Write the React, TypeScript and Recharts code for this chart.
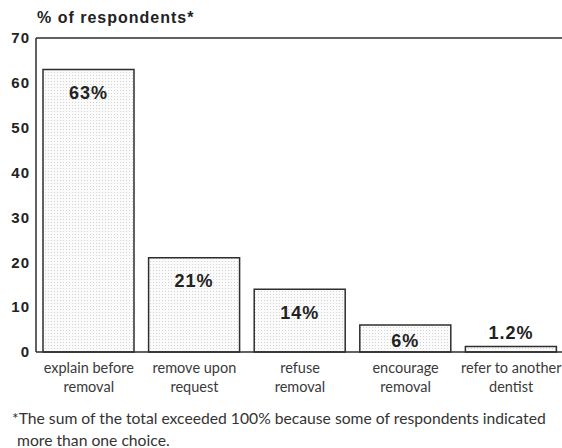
import React from "react";
import { BarChart, Bar, XAxis, YAxis, ReferenceLine, LabelList } from "recharts";

// Responses: what the dentist does when asked about removal
const categories: string[][] = [
  ["explain before", "removal"],
  ["remove upon", "request"],
  ["refuse", "removal"],
  ["encourage", "removal"],
  ["refer to another", "dentist"],
];
const percents: number[] = [63, 21, 14, 6, 1.2];
const valueLabels: string[] = ["63%", "21%", "14%", "6%", "1.2%"];
const yTicks: number[] = [0, 10, 20, 30, 40, 50, 60, 70];

const data = categories.map((lines, i) => ({
  key: lines.join(" "),
  lines,
  value: percents[i],
  label: valueLabels[i],
}));

const INK = "#2e2e2e";
const SANS = "'Liberation Sans', Arial, sans-serif";
const HUMANIST = "Lato, 'Open Sans', sans-serif";

const CategoryTick = (props: any) => {
  const { x, y, payload } = props;
  const row = data.find((d) => d.key === payload.value);
  const lines = row ? row.lines : [String(payload.value)];
  return (
    <g>
      {lines.map((t: string, i: number) => (
        <text
          key={i}
          x={x}
          y={y + 13 + i * 19}
          textAnchor="middle"
          fontFamily={HUMANIST}
          fontSize={14.5}
          fill="#3a3a3a"
        >
          {t}
        </text>
      ))}
    </g>
  );
};

const ValueLabel = (props: any) => {
  const { x, y, width, height, value } = props;
  const cx = x + width / 2;
  let ty: number;
  if (height > 40) ty = y + 23;
  else if (height > 20) ty = y + height / 2 + 2;
  else ty = y - 14;
  return (
    <text
      x={cx}
      y={ty}
      dy="0.36em"
      textAnchor="middle"
      fontFamily={SANS}
      fontWeight="bold"
      fontSize={18}
      letterSpacing={1}
      fill="#222"
    >
      {value}
    </text>
  );
};

export default function App() {
  return (
    <div
      style={{
        position: "absolute",
        left: 0,
        top: 0,
        width: 562,
        height: 448,
        overflow: "hidden",
        background: "#fff",
      }}
    >
      <div
        style={{
          position: "absolute",
          left: 37,
          top: 8,
          fontFamily: SANS,
          fontWeight: "bold",
          fontSize: 16,
          letterSpacing: 1,
          color: "#222",
          lineHeight: "20px",
        }}
      >
        % of respondents*
      </div>
      <BarChart
        width={564}
        height={448}
        data={data}
        margin={{ top: 38, right: 0, bottom: 0, left: 0 }}
      >
        <defs>
          <pattern id="stipple" width="3" height="3" patternUnits="userSpaceOnUse">
            <rect width="3" height="3" fill="#fbfbfb" />
            <rect width="1" height="1" fill="#d4d4d4" />
          </pattern>
        </defs>
        <YAxis
          domain={[0, 70]}
          ticks={yTicks}
          width={36}
          tickSize={0}
          tickMargin={6}
          axisLine={{ stroke: INK, strokeWidth: 1.5 }}
          tickLine={false}
          tick={{
            fontFamily: SANS,
            fontWeight: "bold",
            fontSize: 15,
            letterSpacing: 1,
            fill: "#222",
          }}
        />
        <XAxis
          dataKey="key"
          height={96}
          interval={0}
          tickLine={false}
          axisLine={{ stroke: INK, strokeWidth: 1.5 }}
          tick={<CategoryTick />}
        />
        <ReferenceLine y={70} stroke={INK} strokeWidth={1.5} />
        <Bar
          dataKey="value"
          barSize={91}
          fill="url(#stipple)"
          stroke={INK}
          strokeWidth={1.5}
          isAnimationActive={false}
        >
          <LabelList dataKey="label" content={<ValueLabel />} />
        </Bar>
      </BarChart>
      <div
        style={{
          position: "absolute",
          left: 12,
          top: 407,
          fontFamily: HUMANIST,
          fontSize: 15.7,
          color: "#333",
          lineHeight: "22px",
          whiteSpace: "nowrap",
        }}
      >
        <div>*The sum of the total exceeded 100% because some of respondents indicated</div>
        <div style={{ paddingLeft: 5 }}>more than one choice.</div>
      </div>
    </div>
  );
}
